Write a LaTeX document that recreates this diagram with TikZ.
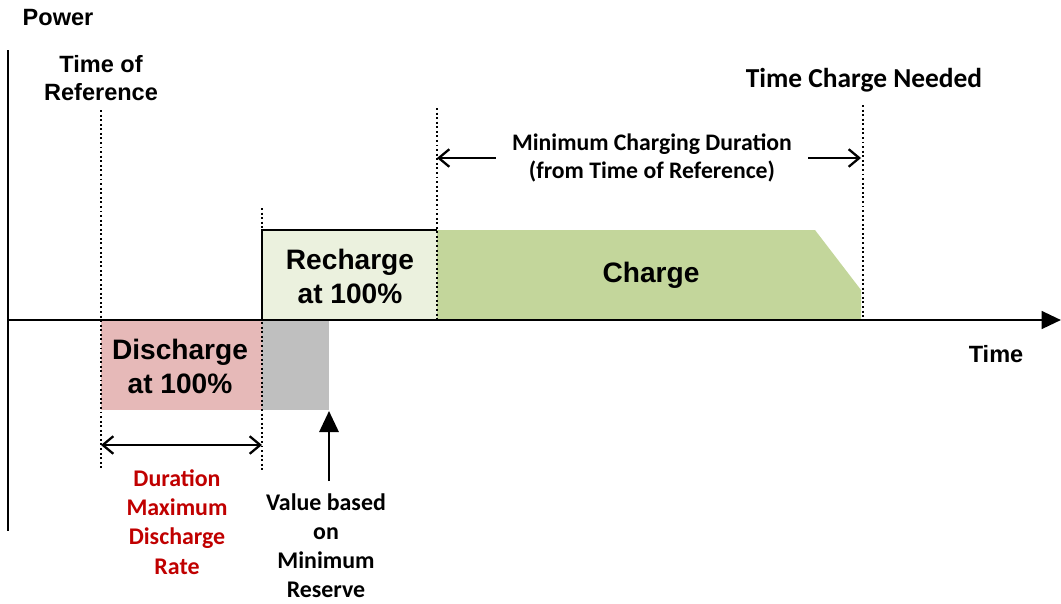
\documentclass[tikz,border=0pt]{standalone}
\usepackage{fontspec}
\setmainfont{Liberation Sans}
\newfontfamily\calfont{Carlito}
\usetikzlibrary{positioning, arrows.meta}

\definecolor{rechargefill}{HTML}{EBF1DE}
\definecolor{chargefill}{HTML}{C3D69B}
\definecolor{dischargefill}{HTML}{E6B9B8}
\definecolor{reservefill}{HTML}{BFBFBF}
\definecolor{darkred}{HTML}{C00000}

\tikzset{
  axis/.style={line width=1.6pt},
  guide/.style={line width=1.1pt, dash pattern=on 1.1pt off 1.5pt},
  big/.style={font=\bfseries\fontsize{16}{19.3}\selectfont, align=center},
  small/.style={font=\bfseries\fontsize{13.4}{16.4}\selectfont, align=center},
  note/.style={font=\calfont\bfseries\fontsize{13.6}{16.7}\selectfont, align=center},
  span/.style={line width=1.3pt, {Straight Barb[length=6pt,width=10pt]}-{Straight Barb[length=6pt,width=10pt]}},
}

\begin{document}
\begin{tikzpicture}[x=0.02cm, y=-0.02cm]
        \useasboundingbox (0,0) rectangle (1061,603);

        % blocks
        \fill[dischargefill] (101,320) rectangle (262,410);
        \fill[reservefill] (262,320) rectangle (329,410);
        \fill[rechargefill] (262,230) rectangle (437,320);
        \draw[line width=0.9pt] (262,320) -- (262,230) -- (437,230);
        \fill[chargefill] (437,230) -- (815,230) -- (861,290) -- (861,320) -- (437,320) -- cycle;

        % guide lines
        \foreach \x/\ya/\yb in {101/110/470, 262/208/470, 437/108/320, 863/105/318}
            \draw[guide] (\x,\ya) -- (\x,\yb);

        % axes
        \coordinate (O) at (8,320);
        \coordinate (xend) at (1061,320);
        \coordinate (ytop) at (8,50);
        \coordinate (ybot) at (8,531);
        \draw[axis] (ytop) -- (ybot);
        \draw[axis, -{Triangle[length=11pt,width=10pt]}] (O) -- (xend);

        % labels
        \node (power) at (58,18) [small] {Power};
        \node (tref) at (101,78) [small] {Time of\\Reference};
        \node (tneed) at (864,80) [note, font=\calfont\bfseries\fontsize{15.6}{17}\selectfont] {Time Charge Needed};
        \node (time) at (996,354) [small] {Time};
        \node (recharge) at (350,276) [big] {Recharge\\at 100\%};
        \node (charge) at (651,275) [big] {Charge};
        \node (discharge) at (180,366) [big] {Discharge\\at 100\%};
        \node (mcd) at (652,158) [note, font=\calfont\bfseries\fontsize{13.5}{16.4}\selectfont] {Minimum Charging Duration\\(from Time of Reference)};
        \node (dur) at (177,522) [note, text=darkred] {Duration\\Maximum\\Discharge\\Rate};
        \node (value) at (326,546) [note, font=\calfont\bfseries\fontsize{13.6}{16.5}\selectfont] {Value based\\on\\Minimum\\Reserve};

        % arrows
        \coordinate (mcdL) at (437,158);
        \coordinate (mcdR) at (861,158);
        \coordinate (durL) at (101,445);
        \coordinate (durR) at (262,445);
        \coordinate (vtail) at (329,481);
        \coordinate (vhead) at (329,411);
        \draw[line width=1.3pt, -{Straight Barb[length=6pt,width=10pt]}] (mcd.west |- mcdL) ++(-10,0) -- (mcdL);
        \draw[line width=1.3pt, -{Straight Barb[length=6pt,width=10pt]}] (mcd.east |- mcdR) ++(10,0) -- (mcdR);
        \draw[span] (durL) -- (durR);
        \draw[line width=1.3pt, -{Triangle[length=12pt,width=11pt]}] (vtail) -- (vhead);

        \end{tikzpicture}
\end{document}
